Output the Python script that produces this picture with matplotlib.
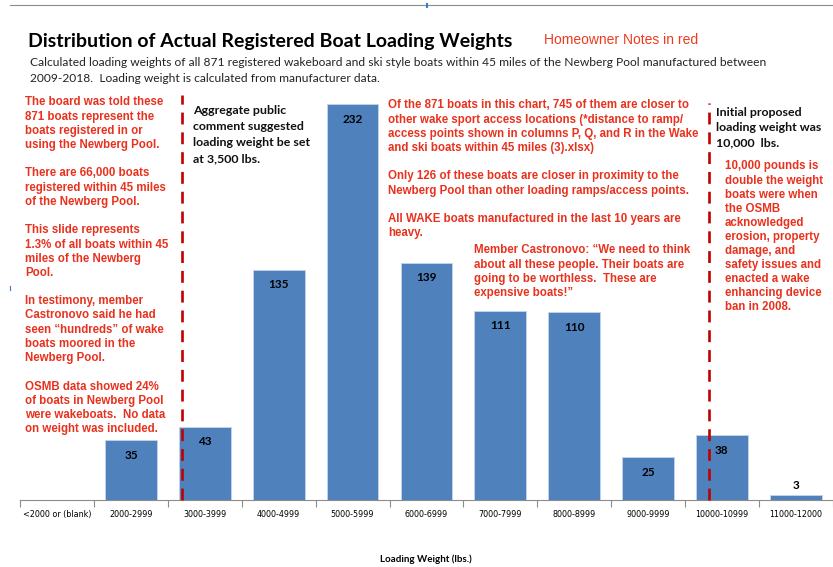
import numpy as np
import matplotlib
matplotlib.use('Agg')
import matplotlib.pyplot as plt
from matplotlib.lines import Line2D

# Data
categories = ['<2000 or (blank)', '2000-2999', '3000-3999', '4000-4999', '5000-5999',
              '6000-6999', '7000-7999', '8000-8999', '9000-9999', '10000-10999', '11000-12000']
counts = [0, 35, 43, 135, 232, 139, 111, 110, 25, 38, 3]

# proposed limits, in category position units
limit_public = 1.69
limit_initial = 8.82

W, H = 833, 567
RED = '#E8321E'
DARK_RED = '#C00000'
BLUE = '#4F81BD'

fig = plt.figure(figsize=(W / 100, H / 100), dpi=100)


def fx(px):
    return px / W


def fy(py):
    return 1 - py / H


def lines_at(x, y0, step, lines, **kw):
    # one text per line, y0 = centre of the first line in pixels
    for i, s in enumerate(lines):
        if s:
            fig.text(fx(x), fy(y0 + i * step), s, va='center_baseline', ha='left', **kw)


# chart
ax = fig.add_axes([fx(20.2), fy(500), fx(812.5), 409.7 / H])
x = np.arange(len(categories))
bars = ax.bar(x, counts, width=0.7, color=BLUE, edgecolor='#C6D5EA', linewidth=0.6, zorder=2)
ax.set_xlim(-0.5, len(categories) - 0.5)
ax.set_ylim(0, 240)

for xi, c in zip(x, counts):
    if c == 0:
        continue
    if c < 10:
        ax.annotate(str(c), (xi, c), xytext=(0, 7), textcoords='offset points',
                    ha='center', va='center', fontsize=8.5, fontweight='bold', family='Lato')
    else:
        ax.annotate(str(c), (xi, c), xytext=(0, -11), textcoords='offset points',
                    ha='center', va='center', fontsize=8.5, fontweight='bold', family='Lato')

ax.plot([limit_public, limit_public], [0, 237], color=DARK_RED, lw=1.9,
        dashes=(4.5, 3), zorder=3, clip_on=False)
ax.plot([limit_initial, limit_initial], [0, 232.5], color=DARK_RED, lw=1.9,
        dashes=(4.5, 3), zorder=3, clip_on=False)

for side in ['left', 'right', 'top']:
    ax.spines[side].set_visible(False)
ax.spines['bottom'].set_color('#8C8C8C')
ax.set_yticks([])
ax.set_xticks(np.arange(-0.5, len(categories)), minor=False)
ax.set_xticklabels([])
ax.set_xticks(x, minor=True)
ax.set_xticklabels(categories, minor=True, fontsize=5.8, family='Liberation Sans Narrow')
ax.tick_params(axis='x', which='major', length=5, color='#8C8C8C', direction='out')
ax.tick_params(axis='x', which='minor', length=0, pad=7)

fig.text(fx(426), fy(558), 'Loading Weight (lbs.)', fontsize=7, fontweight='bold',
         family='Lato', ha='center', va='center_baseline')

# screenshot edges
fig.add_artist(Line2D([fx(10), fx(833)], [fy(5), fy(5)], color='#8C8C8C', lw=0.8))
fig.add_artist(Line2D([fx(427), fx(427)], [fy(4), fy(7)], color='#3A7BD5', lw=1.5))
fig.add_artist(Line2D([fx(10), fx(10)], [fy(286), fy(290)], color='#3A7BD5', lw=0.8))

# headings
fig.text(fx(28), fy(40), 'Distribution of Actual Registered Boat Loading Weights',
         fontsize=14, fontweight='bold', family='Lato', va='center_baseline')
fig.text(fx(544), fy(39), 'Homeowner Notes in red', fontsize=10, color='#F03A1E',
         family='Liberation Sans', va='center_baseline')
lines_at(30, 62, 16, [
    'Calculated loading weights of all 871 registered wakeboard and ski style boats within 45 miles of the Newberg Pool manufactured between',
    '2009-2018.  Loading weight is calculated from manufacturer data.'],
    fontsize=8.65, family='Lato', color='#222222')

red_kw = dict(fontsize=8.3, fontweight='bold', family='Liberation Sans', color=RED)
lines_at(25, 101, 14.2, [
    'The board was told these', '871 boats represent the', 'boats registered in or',
    'using the Newberg Pool.', '',
    'There are 66,000 boats', 'registered within 45 miles', 'of the Newberg Pool.', '',
    'This slide represents', '1.3% of all boats within 45', 'miles of the Newberg', 'Pool.', '',
    'In testimony, member', 'Castronovo said he had', 'seen \u201chundreds\u201d of wake',
    'boats moored in the', 'Newberg Pool.', '',
    'OSMB data showed 24%', 'of boats in Newberg Pool', 'were wakeboats.  No data',
    'on weight was included.'], **red_kw)

black_kw = dict(fontsize=8.9, fontweight='bold', family='Lato', color='#111111')
lines_at(193, 110, 16, ['Aggregate public', 'comment suggested', 'loading weight be set',
                        'at 3,500 lbs.'], **black_kw)

lines_at(388, 104, 14.2, [
    'Of the 871 boats in this chart, 745 of them are closer to',
    'other wake sport access locations (*distance to ramp/',
    'access points shown in columns P, Q, and R in the Wake',
    'and ski boats within 45 miles (3).xlsx)', '',
    'Only 126 of these boats are closer in proximity to the',
    'Newberg Pool than other loading ramps/access points.', '',
    'All WAKE boats manufactured in the last 10 years are',
    'heavy.'], **red_kw)

lines_at(474, 249, 14.2, [
    'Member Castronovo: \u201cWe need to think',
    'about all these people. Their boats are',
    'going to be worthless.  These are',
    'expensive boats!\u201d'], **red_kw)

lines_at(716, 111, 15.5, ['Initial proposed', 'loading weight was', '10,000  lbs.'], **black_kw)

lines_at(725, 165, 14.1, [
    '10,000 pounds is', 'double the weight', 'boats were when', 'the OSMB',
    'acknowledged', 'erosion, property', 'damage, and', 'safety issues and',
    'enacted a wake', 'enhancing device', 'ban in 2008.'], **red_kw)

fig.savefig('out.png', dpi=100)
